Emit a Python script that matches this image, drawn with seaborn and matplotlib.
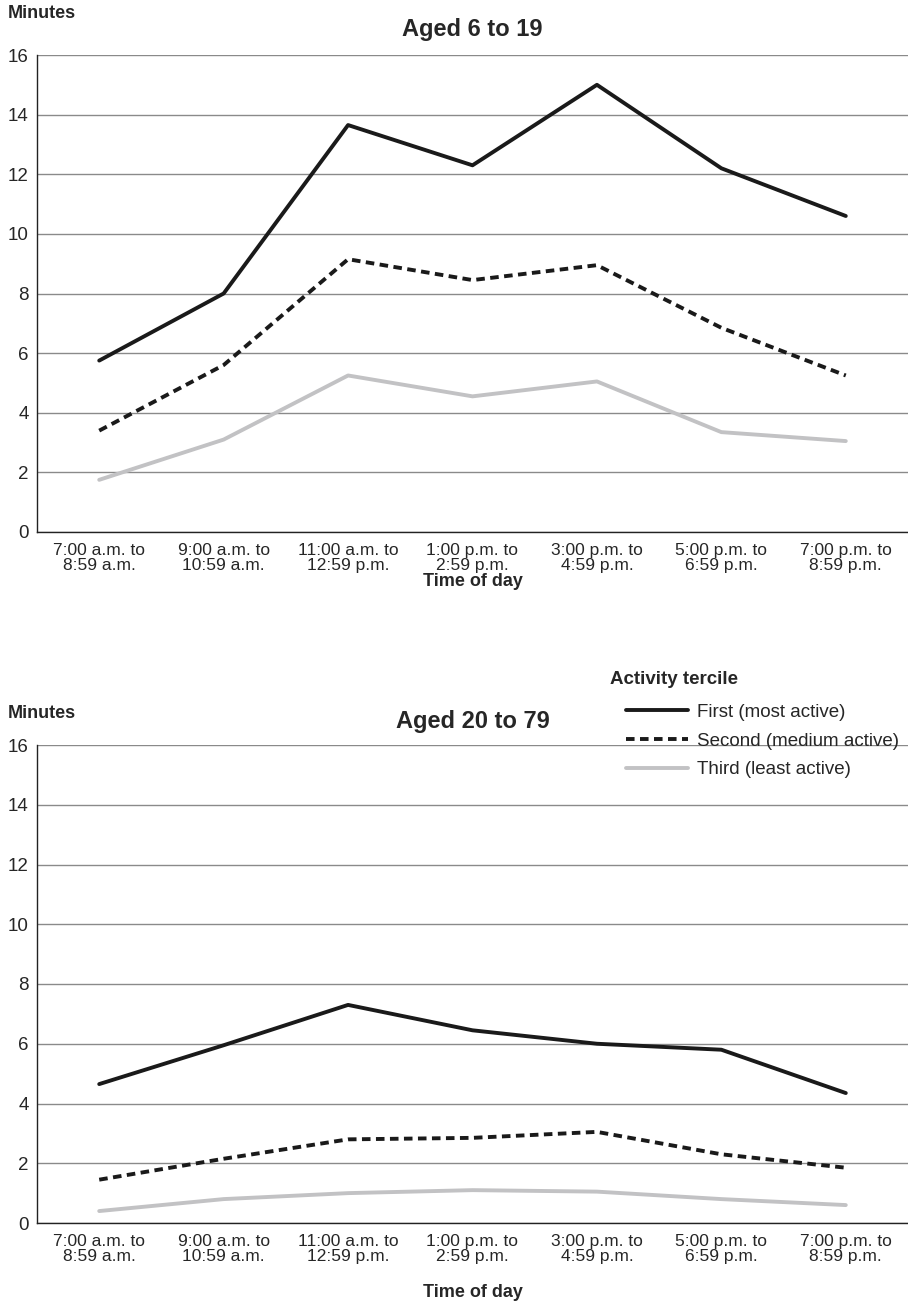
import numpy as np
import pandas as pd
import matplotlib
matplotlib.use('Agg')
import matplotlib.pyplot as plt
import seaborn as sns
from matplotlib.lines import Line2D

## data
times = ['7:00 a.m. to\n8:59 a.m.', '9:00 a.m. to\n10:59 a.m.', '11:00 a.m. to\n12:59 p.m.',
         '1:00 p.m. to\n2:59 p.m.', '3:00 p.m. to\n4:59 p.m.', '5:00 p.m. to\n6:59 p.m.',
         '7:00 p.m. to\n8:59 p.m.']
terciles = ['First (most active)', 'Second (medium active)', 'Third (least active)']

young_first = [5.75, 8.0, 13.65, 12.3, 15.0, 12.2, 10.6]
young_second = [3.4, 5.6, 9.15, 8.45, 8.95, 6.85, 5.25]
young_third = [1.75, 3.1, 5.25, 4.55, 5.05, 3.35, 3.05]

adult_first = [4.65, 5.95, 7.3, 6.45, 6.0, 5.8, 4.35]
adult_second = [1.45, 2.15, 2.8, 2.85, 3.05, 2.3, 1.85]
adult_third = [0.4, 0.8, 1.0, 1.1, 1.05, 0.8, 0.6]

y_ticks = [0, 2, 4, 6, 8, 10, 12, 14, 16]


def make_frame(first, second, third):
    rows = []
    for name, vals in zip(terciles, [first, second, third]):
        for i, v in enumerate(vals):
            rows.append({'Time': i, 'Minutes': v, 'Tercile': name})
    return pd.DataFrame(rows)


df_young = make_frame(young_first, young_second, young_third)
df_adult = make_frame(adult_first, adult_second, adult_third)

sns.set_style('white')
plt.rcParams['font.family'] = ['Liberation Sans', 'DejaVu Sans']

colours = {terciles[0]: '#1a1a1a', terciles[1]: '#1a1a1a', terciles[2]: '#c2c2c4'}
dashes = {terciles[0]: '', terciles[1]: (2.2, 1.4), terciles[2]: ''}

fig = plt.figure(figsize=(9.08, 13.06), dpi=100)
ax1 = fig.add_axes([37/908, 1-532/1306, 1-37/908, (532-55)/1306])
ax2 = fig.add_axes([37/908, 1-1223/1306, 1-37/908, (1223-745)/1306])


def style_panel(ax, df, title, xpad, tpad):
    sns.lineplot(data=df, x='Time', y='Minutes', hue='Tercile', style='Tercile',
                 palette=colours, dashes=dashes, linewidth=2.8, legend=False, ax=ax)
    ax.set_xlim(-0.5, 6.5)
    ax.set_ylim(0, 16)
    ax.set_yticks(y_ticks)
    ax.set_xticks(range(len(times)))
    ax.set_xticklabels(times, fontsize=12.5, linespacing=0.95)
    ax.tick_params(axis='y', labelsize=13.5, length=0, pad=6)
    ax.tick_params(axis='x', length=0, pad=8)
    ax.yaxis.grid(True, color='#8a8a8a', linewidth=1.0)
    ax.set_axisbelow(True)
    for side in ['top', 'right']:
        ax.spines[side].set_visible(False)
    for side in ['left', 'bottom']:
        ax.spines[side].set_color('#222222')
        ax.spines[side].set_linewidth(1.0)
    ax.set_ylabel('')
    ax.set_xlabel('Time of day', fontsize=13, fontweight='bold', labelpad=xpad)
    ax.set_title(title, fontsize=17, fontweight='bold', pad=tpad)


style_panel(ax1, df_young, 'Aged 6 to 19', 0, 14)
style_panel(ax2, df_adult, 'Aged 20 to 79', 15, 12)

fig.text(8/908, 1-13/1306, 'Minutes', fontsize=13, fontweight='bold', va='center', ha='left')
fig.text(8/908, 1-713/1306, 'Minutes', fontsize=13, fontweight='bold', va='center', ha='left')

handles = [Line2D([], [], color=colours[terciles[0]], linewidth=2.8),
           Line2D([], [], color=colours[terciles[1]], linewidth=2.8, linestyle=(0, (2.2, 1.4))),
           Line2D([], [], color=colours[terciles[2]], linewidth=2.8)]
fig.text(610/908, 1-679/1306, 'Activity tercile', fontsize=13.5, fontweight='bold',
         va='center', ha='left')
leg = fig.legend(handles, terciles, loc='upper left',
                 bbox_to_anchor=(609/908, 1-687/1306), frameon=False, fontsize=13.5,
                 handlelength=3.3, handletextpad=0.5, labelspacing=0.62)

fig.savefig('out.png', dpi=100)
